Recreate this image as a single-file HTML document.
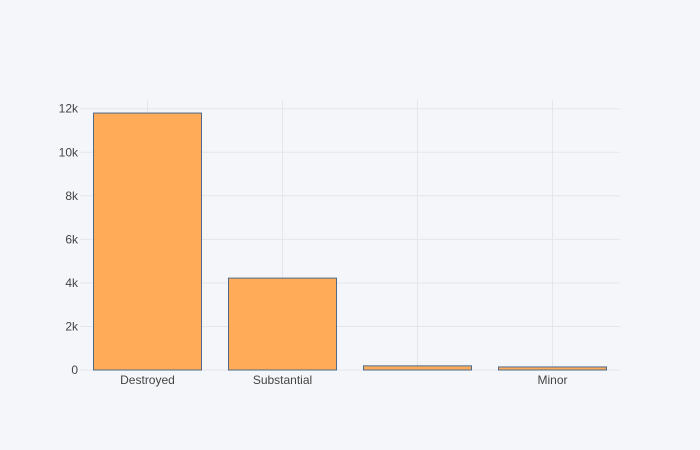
<!DOCTYPE html>
<html><head><meta charset="utf-8"><style>
body{margin:0;background:#f5f6fa;font-family:"Liberation Sans",sans-serif}
</style></head><body>
<svg id="chart" width="700" height="450" xmlns="http://www.w3.org/2000/svg" style="display:block">
<rect width="700" height="450" fill="#f5f6fa"/>
<g id="grid"></g><g id="bars"></g><g id="labels"></g>
</svg>
<script>
const categories=["Destroyed","Substantial","","Minor"];
const values=[11800,4220,190,140];
const yTicks=[0,2000,4000,6000,8000,10000,12000];
const yTickLabels=["0","2k","4k","6k","8k","10k","12k"];
const L=80,R=620,T=100,B=370,yMax=12400;
const y=v=>B-v/yMax*(B-T);
const step=(R-L)/categories.length;
const xc=i=>L+step*(i+0.5);
const NS="http://www.w3.org/2000/svg";
function mk(tag,attrs,parent,text){const e=document.createElementNS(NS,tag);for(const k in attrs)e.setAttribute(k,attrs[k]);if(text!==undefined)e.textContent=text;document.getElementById(parent).appendChild(e);return e;}
categories.forEach((c,i)=>{
 const g=mk('line',{x1:xc(i),x2:xc(i),y1:T,y2:B,stroke:'#e3e6ec','stroke-width':1},'grid');
 
 
});
yTicks.forEach((t,i)=>{
 if(t>0){const g=mk('line',{x1:L,x2:R,y1:y(t),y2:y(t),stroke:'#e3e6ec','stroke-width':1},'grid');
 
 }
 const tx=mk('text',{x:L-2,y:y(t)+4,'text-anchor':'end','font-size':12,fill:'#444'},'labels',yTickLabels[i]);
 
 
});
const zl=mk('line',{x1:L,x2:R,y1:B,y2:B,stroke:'#e3e6ec','stroke-width':1},'grid');


const bw=step*0.8;
values.forEach((v,i)=>{
 const r=mk('rect',{x:xc(i)-bw/2,y:y(v),width:bw,height:B-y(v),fill:'#ffa64f','fill-opacity':0.95,stroke:'#4d6a8c','stroke-width':1},'bars');
 
 
 const tx=mk('text',{x:xc(i),y:B+14,'text-anchor':'middle','font-size':12,fill:'#444'},'labels',categories[i]);
 
 
});
</script>
</body></html>
